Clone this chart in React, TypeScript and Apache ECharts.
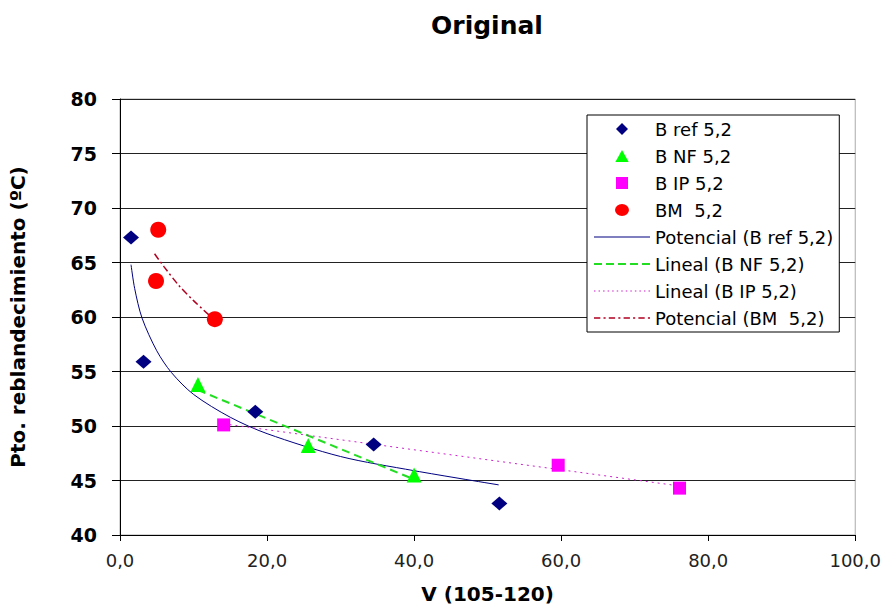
import React, { useEffect, useRef } from "react";
import * as echarts from "echarts";

const bRefX = [1.5, 3.2, 18.4, 34.5, 51.6];
const bRefY = [67.3, 55.9, 51.3, 48.3, 42.9];
const bNfX = [10.6, 25.6, 40.0];
const bNfY = [53.8, 48.2, 45.5];
const bIpX = [14.1, 59.6, 76.1];
const bIpY = [50.1, 46.4, 44.3];
const bmX = [5.2, 4.9, 12.9];
const bmY = [68.0, 63.3, 59.8];

const bRefTrendX = [1.5, 2, 3, 5, 7, 10, 15, 20, 30, 40, 51.5];
const bRefTrendY = [64.8, 62.6, 59.9, 56.9, 54.9, 52.9, 50.8, 49.3, 47.2, 45.9, 44.6];
const bNfTrendX = [10.6, 40.0];
const bNfTrendY = [53.3, 45.1];
const bIpTrendX = [14.1, 76.1];
const bIpTrendY = [50.2, 44.5];
const bmTrendX = [4.7, 6, 8, 10, 12.9];
const bmTrendY = [65.8, 64.6, 62.9, 61.5, 59.7];

const legendNames = [
  "B ref 5,2",
  "B NF 5,2",
  "B IP 5,2",
  "BM  5,2",
  "Potencial (B ref 5,2)",
  "Lineal (B NF 5,2)",
  "Lineal (B IP 5,2)",
  "Potencial (BM  5,2)",
];

const zip = (xs: number[], ys: number[]) => xs.map((x, i) => [x, ys[i]]);

const FONT = "'DejaVu Sans', 'Liberation Sans', Arial, sans-serif";

// legend icon shapes (drawn inside a 56-wide icon box)
const dashPath = (dash: number[], h: number, total: number) => {
  let s = "";
  let x = 0;
  let k = 0;
  while (x < total) {
    const len = Math.min(dash[k % dash.length], total - x);
    if (k % 2 === 0) s += `M${x},0h${len}v${h}h${-len}z`;
    x += dash[k % dash.length];
    k++;
  }
  return "path://" + s;
};

const legendIcons: Record<string, string> = {
  "B ref 5,2": "path://M5,0L10,5L5,10L0,5Z",
  "B NF 5,2": "path://M5,0L10,9L0,9Z",
  "B IP 5,2": "path://M0,0H10V10H0Z",
  "BM  5,2": "path://M0,5a5,4.3 0 1,0 10,0a5,4.3 0 1,0 -10,0Z",
  "Potencial (B ref 5,2)": "path://M0,0h56v1h-56z",
  "Lineal (B NF 5,2)": dashPath([8, 4], 2, 56),
  "Lineal (B IP 5,2)": dashPath([1.5, 3], 1, 56),
  "Potencial (BM  5,2)": dashPath([6, 3, 2, 3], 1.4, 56),
};

export default function App() {
  const ref = useRef<HTMLDivElement>(null);
  useEffect(() => {
    if (!ref.current) return;
    const chart = echarts.init(ref.current, undefined, { renderer: "svg" });
    chart.setOption({
      animation: false,
      backgroundColor: "#fff",
      textStyle: { fontFamily: FONT },
      title: {
        text: "Original",
        left: 482,
        textAlign: "center",
        top: 8,
        textStyle: { fontFamily: FONT, fontSize: 25, fontWeight: "bold", color: "#000" },
      },
      grid: {
        left: 120,
        top: 99,
        right: 27,
        bottom: 72,
        show: true,
        borderColor: "#aaa",
        borderWidth: 1,
        backgroundColor: "transparent",
      },
      legend: {
        orient: "vertical",
        left: 587,
        top: 115,
        padding: [5, 6, 5, 7],
        itemWidth: 56,
        itemHeight: 12,
        itemGap: 9,
        symbolKeepAspect: true,
        backgroundColor: "#fff",
        borderColor: "#000",
        borderWidth: 1,
        borderRadius: 0,
        textStyle: { fontFamily: FONT, fontSize: 18, color: "#000" },
        data: legendNames.map((n) => ({ name: n, icon: legendIcons[n] })),
      },
      xAxis: {
        type: "value",
        min: 0,
        max: 100,
        interval: 20,
        name: "V (105-120)",
        nameLocation: "middle",
        nameGap: 49,
        nameTextStyle: { fontFamily: FONT, fontSize: 20, fontWeight: "bold", color: "#000" },
        axisLine: { show: true, onZero: false, lineStyle: { color: "#000", width: 1 } },
        axisTick: { show: true, inside: false, length: 6, lineStyle: { color: "#000" } },
        axisLabel: {
          fontFamily: FONT,
          fontSize: 18,
          color: "#222",
          margin: 16,
          formatter: (v: number) => v.toFixed(1).replace(".", ","),
        },
        splitLine: { show: false },
      },
      yAxis: {
        type: "value",
        min: 40,
        max: 80,
        interval: 5,
        name: "Pto. reblandecimiento (ºC)",
        nameLocation: "middle",
        nameGap: 92,
        nameTextStyle: { fontFamily: FONT, fontSize: 20, fontWeight: "bold", color: "#000" },
        axisLine: { show: true, onZero: false, lineStyle: { color: "#000", width: 1 } },
        axisTick: { show: true, inside: false, length: 8, lineStyle: { color: "#000" } },
        axisLabel: { fontFamily: FONT, fontSize: 19, fontWeight: "bold", color: "#000", margin: 23 },
        splitLine: { show: true, lineStyle: { color: "#222", width: 1 } },
      },
      series: [
        {
          name: "Potencial (B ref 5,2)",
          type: "line",
          data: zip(bRefTrendX, bRefTrendY),
          smooth: 0.3,
          symbol: "none",
          lineStyle: { color: "#000080", width: 1 },
          itemStyle: { color: "#000080" },
          z: 2,
        },
        {
          name: "Lineal (B NF 5,2)",
          type: "line",
          data: zip(bNfTrendX, bNfTrendY),
          symbol: "none",
          lineStyle: { color: "#22dd22", width: 2, type: [8, 5] },
          itemStyle: { color: "#22dd22" },
          z: 2,
        },
        {
          name: "Lineal (B IP 5,2)",
          type: "line",
          data: zip(bIpTrendX, bIpTrendY),
          symbol: "none",
          lineStyle: { color: "#cc22cc", width: 1, type: [2, 4] },
          itemStyle: { color: "#cc22cc" },
          z: 2,
        },
        {
          name: "Potencial (BM  5,2)",
          type: "line",
          data: zip(bmTrendX, bmTrendY),
          smooth: 0.3,
          symbol: "none",
          lineStyle: { color: "#b00020", width: 1.5, type: [7, 3, 2, 3] },
          itemStyle: { color: "#b00020" },
          z: 2,
        },
        {
          name: "B ref 5,2",
          type: "scatter",
          data: zip(bRefX, bRefY),
          symbol: "diamond",
          symbolSize: [16, 14],
          itemStyle: { color: "#000080", opacity: 1 },
          z: 3,
        },
        {
          name: "B NF 5,2",
          type: "scatter",
          data: zip(bNfX, bNfY),
          symbol: "triangle",
          symbolSize: 15,
          itemStyle: { color: "#00ff00", opacity: 1 },
          z: 3,
        },
        {
          name: "B IP 5,2",
          type: "scatter",
          data: zip(bIpX, bIpY),
          symbol: "rect",
          symbolSize: 13,
          itemStyle: { color: "#ff00ff", opacity: 1 },
          z: 3,
        },
        {
          name: "BM  5,2",
          type: "scatter",
          data: zip(bmX, bmY),
          symbol: "circle",
          symbolSize: 16,
          itemStyle: { color: "#ff0000", opacity: 1 },
          z: 3,
        },
      ],
    });
    return () => chart.dispose();
  }, []);
  return <div ref={ref} style={{ width: 884, height: 609, position: "absolute", left: 0, top: 0 }} />;
}
